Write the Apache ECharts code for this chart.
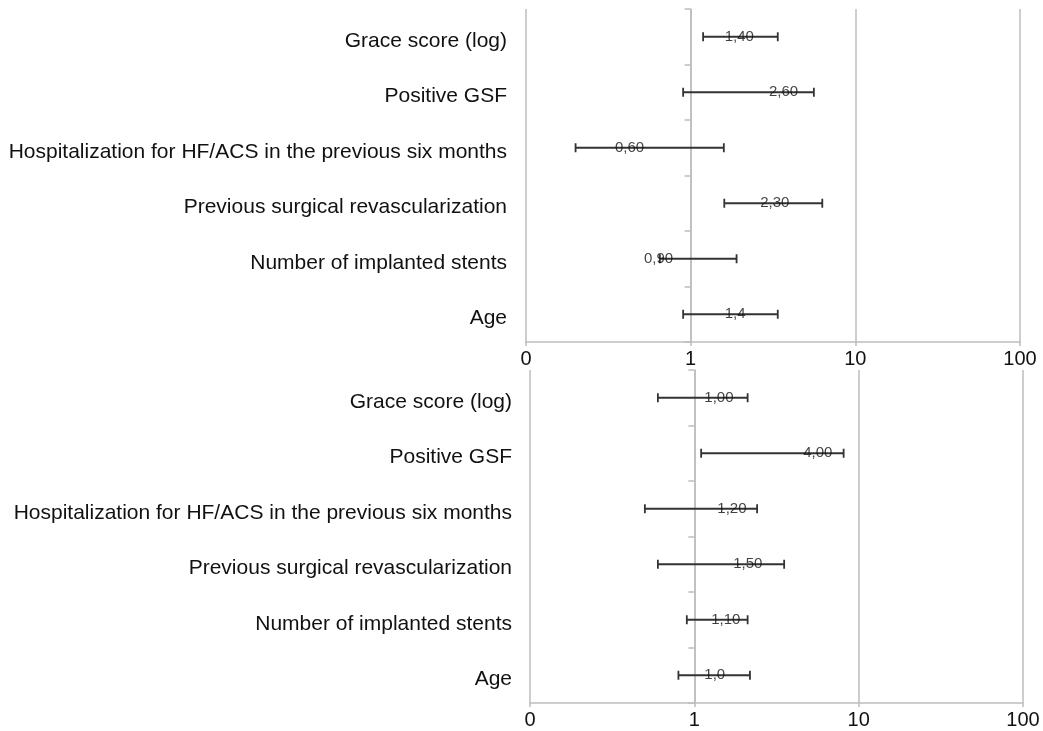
<!DOCTYPE html>
<html>
<head>
<meta charset="utf-8">
<script src="https://cdn.jsdelivr.net/npm/echarts@6/dist/echarts.min.js"></script>
<style>
html,body{margin:0;padding:0;background:#fff;}
#chart{width:1043px;height:731px;}
</style>
</head>
<body>
<div id="chart"></div>
<script>
// ---- data ----
const categories = [
  'Grace score (log)',
  'Positive GSF',
  'Hospitalization for HF/ACS in the previous six months',
  'Previous surgical revascularization',
  'Number of implanted stents',
  'Age'
];
const tickLabels = ['0', '1', '10', '100'];

const topEst    = [1.40, 2.60, 0.60, 2.30, 0.90, 1.4];
const topLow    = [1.19, 0.90, 0.20, 1.60, 0.65, 0.90];
const topHigh   = [3.38, 5.60, 1.59, 6.30, 1.90, 3.38];
const topLabels = ['1,40', '2,60', '0,60', '2,30', '0,90', '1,4'];

const botEst    = [1.00, 4.00, 1.20, 1.50, 1.10, 1.0];
const botLow    = [0.60, 1.10, 0.50, 0.60, 0.90, 0.80];
const botHigh   = [2.11, 8.10, 2.41, 3.52, 2.11, 2.18];
const botLabels = ['1,00', '4,00', '1,20', '1,50', '1,10', '1,0'];

// ---- layout / style ----
const FONT = "'Liberation Sans', Arial, Helvetica, sans-serif";
const GRID_COLOR = '#bdbdbd';
const BAR_COLOR = '#333333';
const grids = [
  { left: 526, right: 23, top: 9, height: 333 },
  { left: 530, right: 20, top: 370, height: 333 }
];
const W = 1043;
const AX_MIN = 0.1, AX_MAX = 100;

function xAxisFor(gi) {
  return {
    type: 'log', logBase: 10, min: AX_MIN, max: AX_MAX, gridIndex: gi,
    axisLine: { show: true, lineStyle: { color: GRID_COLOR, width: 1.5 } },
    axisTick: { show: true, length: 4, lineStyle: { color: GRID_COLOR, width: 1.5 } },
    minorTick: { show: false },
    splitLine: { show: true, lineStyle: { color: GRID_COLOR, width: 1.5 } },
    axisLabel: {
      fontFamily: FONT, fontSize: 20, color: '#111', margin: 7,
      showMinLabel: true, showMaxLabel: true,
      formatter: v => tickLabels[Math.round(Math.log10(v)) + 1]
    }
  };
}
function yAxesFor(gi) {
  const g = grids[gi];
  const width = W - g.left - g.right;
  const oneOffset = width * (Math.log10(1) - Math.log10(AX_MIN)) / (Math.log10(AX_MAX) - Math.log10(AX_MIN));
  return [
    {
      type: 'category', data: categories, inverse: true, gridIndex: gi,
      axisLine: { show: false }, axisTick: { show: false },
      axisLabel: {
        margin: gi === 0 ? 19 : 18,
        formatter: v => '{t|' + v + '}',
        rich: { t: { fontFamily: FONT, fontSize: 21, color: '#111', padding: [8, 0, 0, 0] } }
      }
    },
    {
      type: 'category', data: categories, inverse: true, gridIndex: gi,
      position: 'left', offset: -oneOffset,
      axisLine: { show: true, lineStyle: { color: GRID_COLOR, width: 1.5 } },
      axisTick: { show: true, length: 6, lineStyle: { color: GRID_COLOR, width: 1.5 } },
      axisLabel: { show: false }
    }
  ];
}

function errorSeries(gi, low, high) {
  return {
    type: 'custom', xAxisIndex: gi, yAxisIndex: gi * 2, z: 3,
    data: low.map((l, i) => [l, high[i], i]),
    encode: { x: [0, 1], y: 2 },
    renderItem: (params, api) => {
      const p0 = api.coord([api.value(0), api.value(2)]);
      const p1 = api.coord([api.value(1), api.value(2)]);
      const h = 4.5;
      const style = { stroke: BAR_COLOR, lineWidth: 1.8 };
      return {
        type: 'group',
        children: [
          { type: 'line', shape: { x1: p0[0], y1: p0[1], x2: p1[0], y2: p1[1] }, style },
          { type: 'line', shape: { x1: p0[0], y1: p0[1] - h, x2: p0[0], y2: p0[1] + h }, style },
          { type: 'line', shape: { x1: p1[0], y1: p1[1] - h, x2: p1[0], y2: p1[1] + h }, style }
        ]
      };
    }
  };
}
function labelSeries(gi, est, labels) {
  return {
    type: 'scatter', xAxisIndex: gi, yAxisIndex: gi * 2, z: 5,
    symbolSize: 0, silent: true,
    data: est.map((v, i) => ({
      value: [v, i],
      label: { position: v >= 1 ? 'right' : 'left' }
    })),
    label: {
      show: true, distance: 10, fontFamily: FONT, fontSize: 15, color: '#111',
      formatter: p => labels[p.dataIndex]
    }
  };
}

const chart = echarts.init(document.getElementById('chart'), null, { renderer: 'canvas' });
chart.setOption({
  animation: false,
  backgroundColor: '#fff',
  grid: grids.map(g => Object.assign({ containLabel: false }, g)),
  xAxis: [xAxisFor(0), xAxisFor(1)],
  yAxis: [...yAxesFor(0), ...yAxesFor(1)],
  series: [
    errorSeries(0, topLow, topHigh),
    labelSeries(0, topEst, topLabels),
    errorSeries(1, botLow, botHigh),
    labelSeries(1, botEst, botLabels)
  ]
});
</script>
</body>
</html>
